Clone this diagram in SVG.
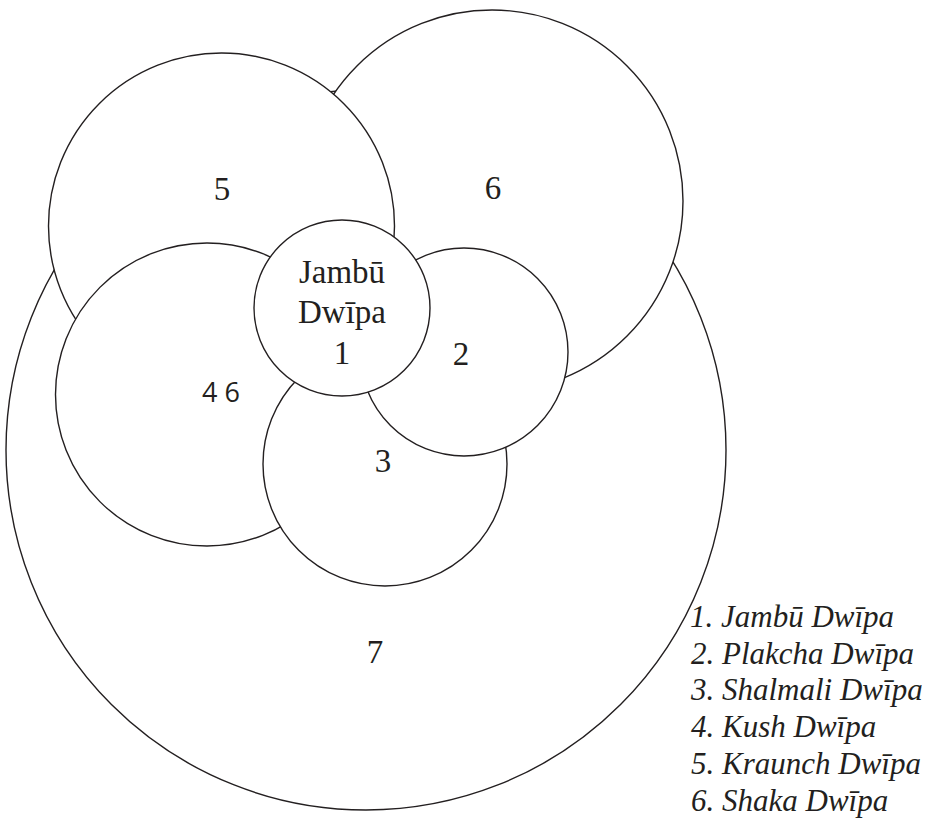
<svg xmlns="http://www.w3.org/2000/svg" width="932" height="824" viewBox="0 0 932 824">
<style>
  .c { fill: #ffffff; stroke: #231f20; stroke-width: 1.4; }
  .n { font-family: "Liberation Serif", "Times New Roman", serif; font-size: 33px; fill: #231f20; text-anchor: middle; }
  .s { font-family: "Open Sans", "DejaVu Sans", sans-serif; font-size: 27px; fill: #231f20; }
  .l { font-family: "Liberation Serif", "Times New Roman", serif; font-style: italic; font-size: 31px; fill: #231f20; }
</style>
<rect width="932" height="824" fill="#ffffff"/>
<g id="dwipa7">
  <circle class="c" cx="366" cy="450" r="360"/>
  <text class="n" x="375" y="663">7</text>
</g>
<g id="dwipa6">
  <circle class="c" cx="492" cy="201" r="191"/>
  <text class="n" x="493" y="199">6</text>
</g>
<g id="dwipa5">
  <circle class="c" cx="221.5" cy="226" r="173"/>
  <text class="n" x="222" y="200">5</text>
</g>
<g id="dwipa4">
  <circle class="c" cx="207" cy="394.5" r="151.5"/>
  <text class="s" x="202" y="402">4 6</text>
</g>
<g id="dwipa3">
  <circle class="c" cx="385" cy="464" r="122"/>
  <text class="n" x="383" y="472">3</text>
</g>
<g id="dwipa2">
  <circle class="c" cx="464" cy="352" r="104"/>
  <text class="n" x="461" y="365">2</text>
</g>
<g id="dwipa1">
  <circle class="c" cx="342" cy="308" r="88"/>
  <text class="n" x="342" y="283">Jambū</text>
  <text class="n" x="342" y="323">Dwīpa</text>
  <text class="n" x="342" y="364">1</text>
</g>
<g id="legend">
  <text class="l" x="690" y="627">1. Jambū Dwīpa</text>
  <text class="l" x="691" y="664">2. Plakcha Dwīpa</text>
  <text class="l" x="691" y="700">3. Shalmali Dwīpa</text>
  <text class="l" x="691" y="737">4. Kush Dwīpa</text>
  <text class="l" x="691" y="774">5. Kraunch Dwīpa</text>
  <text class="l" x="691" y="811">6. Shaka Dwīpa</text>
</g>
</svg>
